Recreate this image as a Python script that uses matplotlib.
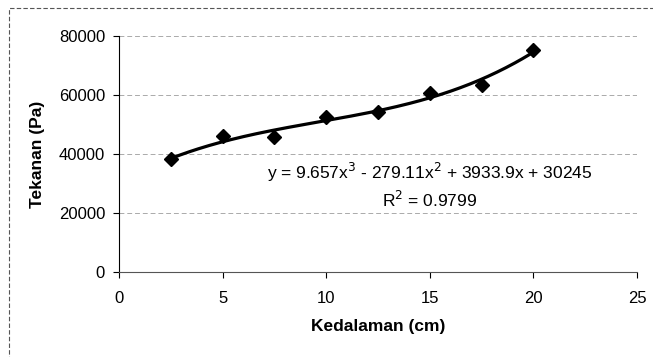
import numpy as np
import matplotlib
matplotlib.use("Agg")
from matplotlib import pyplot as plt
from matplotlib.patches import Rectangle

plt.rcParams['font.family'] = ['Liberation Sans', 'DejaVu Sans']

# data
kedalaman = [2.5, 5, 7.5, 10, 12.5, 15, 17.5, 20]
tekanan = [38300, 46100, 45800, 52600, 54300, 60700, 63400, 75300]

# cubic trendline coefficients (from the equation on the chart)
coef = [9.657, -279.11, 3933.9, 30245]
r2 = 0.9799

xticks = [0, 5, 10, 15, 20, 25]
yticks = [0, 20000, 40000, 60000, 80000]

fig = plt.figure(figsize=(6.53, 3.57), dpi=100)
ax = fig.add_axes([119 / 653, 1 - 272 / 357, (637 - 119) / 653, (272 - 36) / 357])

# outer dashed border of the chart area
fig.patches.append(Rectangle((9 / 653, -0.05), 1.2, 1 - 8 / 357 + 0.05,
                             transform=fig.transFigure, fill=False,
                             edgecolor='#555555', linewidth=0.8,
                             linestyle=(0, (4, 2))))

xs = np.linspace(kedalaman[0], kedalaman[-1], 200)
ax.plot(xs, np.polyval(coef, xs), color='black', linewidth=2.3)
ax.plot(kedalaman, tekanan, linestyle='none', marker='D', markersize=7,
        color='black')

ax.set_xlim(0, 25)
ax.set_ylim(0, 80000)
ax.set_xticks(xticks)
ax.set_yticks(yticks)
ax.tick_params(labelsize=12, direction='out', length=4, width=0.8, pad=6)
ax.tick_params(axis='x', pad=10)

ax.grid(axis='y', color='#aaaaaa', linestyle=(0, (5, 3)), linewidth=0.7)
ax.set_axisbelow(True)
for s in ['top', 'right']:
    ax.spines[s].set_visible(False)
ax.spines['left'].set_color('black')
ax.spines['bottom'].set_color('#555555')

ax.set_xlabel('Kedalaman (cm)', fontsize=12.5, fontweight='bold', labelpad=9)
ax.set_ylabel('Tekanan (Pa)', fontsize=12.5, fontweight='bold', labelpad=10)

eq = 'y = {}x$^3$ - {}x$^2$ + {}x + {}'.format(coef[0], -coef[1], coef[2], coef[3])
ax.text(7.14, 33900, eq, fontsize=12.5, ha='left', va='center')
ax.text(15.0, 24400, 'R$^2$ = {}'.format(r2), fontsize=12.5, ha='center', va='center')

plt.savefig('out.png', dpi=100)
